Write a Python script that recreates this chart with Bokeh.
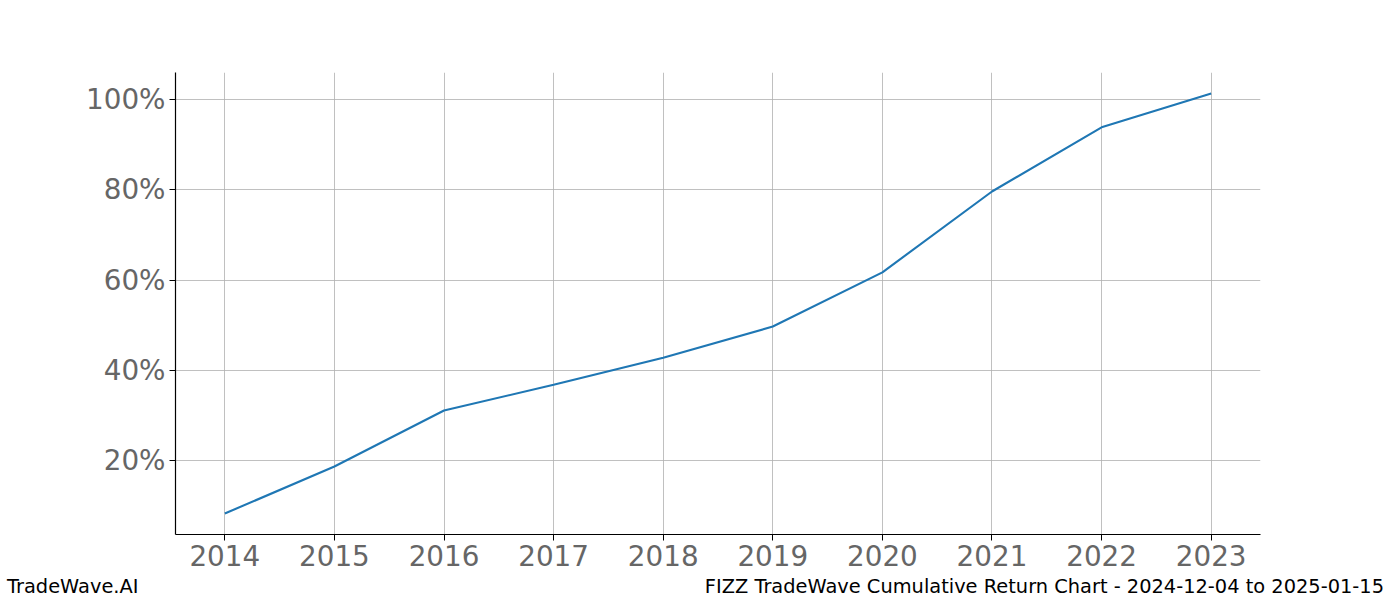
from bokeh.plotting import figure
from bokeh.layouts import column
from bokeh.models import FixedTicker, PrintfTickFormatter, Div
from bokeh.embed import file_html
from bokeh.resources import INLINE

# cumulative return per year, in percent
years = [2014, 2015, 2016, 2017, 2018, 2019, 2020, 2021, 2022, 2023]
returns = [8.3, 18.7, 31.1, 36.8, 42.8, 49.7, 61.7, 79.6, 93.8, 101.3]
y_ticks = [20, 40, 60, 80, 100]

footer_left = "TradeWave.AI"
footer_right = "FIZZ TradeWave Cumulative Return Chart - 2024-12-04 to 2025-01-15"

p = figure(width=1400, height=577, output_backend="svg", toolbar_location=None,
           x_range=(2013.55, 2023.45), y_range=(3.65, 105.95),
           min_border_left=175, min_border_right=140, min_border_top=72, min_border_bottom=43)
p.outline_line_color = None

p.line(years, returns, line_color="#1f77b4", line_width=2.1)

p.xaxis.ticker = FixedTicker(ticks=years)
p.yaxis.ticker = FixedTicker(ticks=y_ticks)
p.yaxis.formatter = PrintfTickFormatter(format="%d%%")

for ax in p.axis:
    ax.axis_line_color = "black"
    ax.axis_line_width = 1.2
    ax.major_tick_line_color = "black"
    ax.major_tick_out = 6
    ax.major_tick_in = 0
    ax.minor_tick_out = 0
    ax.minor_tick_in = 0
    ax.major_label_text_font = "DejaVu Sans"
    ax.major_label_text_font_size = "27.8px"
    ax.major_label_text_color = "#666666"
    ax.major_label_standoff = 4

p.grid.grid_line_color = "#b0b0b0"
p.grid.grid_line_width = 0.8

# footer line under the chart
footer = Div(width=1400, height=23, text=(
    '<div style="position:relative;left:-5px;top:-6px;display:flex;'
    'justify-content:space-between;width:1400px;max-width:none;box-sizing:border-box;'
    'padding:0 16px 0 7px;font-family:\'DejaVu Sans\';font-size:19.4px;'
    'line-height:22px;color:black;white-space:nowrap">'
    f'<span>{footer_left}</span><span>{footer_right}</span></div>'))

layout = column(p, footer, spacing=0)
open("out.html", "w").write(file_html(layout, INLINE))
